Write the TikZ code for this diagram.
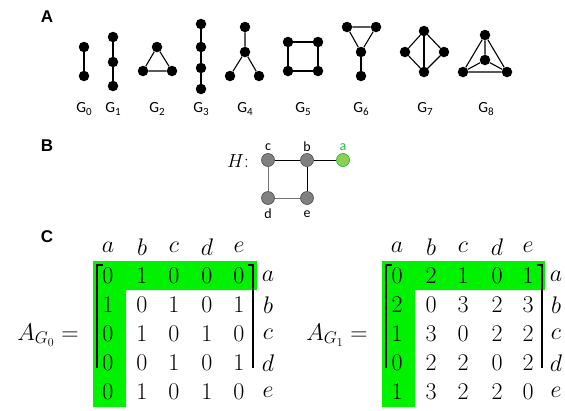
\RequirePackage{fix-cm}
\documentclass[tikz,border=0pt]{standalone}
\usepackage{fontspec}
\newfontfamily\panelfont{Liberation Sans}
\newfontfamily\gfont{Carlito}
\definecolor{hl}{RGB}{0,242,0}
\definecolor{vgray}{RGB}{128,128,128}
\definecolor{agreen}{RGB}{140,208,80}
\definecolor{aedge}{RGB}{40,185,80}
\newcommand{\glabel}[1]{{\gfont\fontsize{15.5}{17}\selectfont G\raisebox{-2.5pt}{\fontsize{11}{11}\selectfont #1}}}
\tikzset{
  dot/.style={circle,fill=black,inner sep=0pt,minimum size=10.5pt},
  edge/.style={line width=1.1pt,black},
  panel/.style={font=\panelfont\bfseries\fontsize{17}{18}\selectfont},
  glab/.style={inner sep=0pt},
  vtx/.style={circle,draw=black!70,fill=vgray,line width=0.6pt,inner sep=0pt,minimum size=13pt},
  vlab/.style={font=\gfont\fontsize{14}{15}\selectfont,inner sep=0pt},
  ent/.style={font=\fontsize{24}{28}\selectfont,inner sep=0pt},
  brk/.style={line width=1.6pt,black},
}
\begin{document}
\begin{tikzpicture}[x=1pt,y=-1pt]
\useasboundingbox (0,0) rectangle (565,410);

% panel letters
\node[panel] (pA) at (47,17) {A};
\node[panel] (pB) at (47,146) {B};
\node[panel] (pC) at (47,237) {C};

% ---------- panel A: the small graphs ----------
% G0
\node[dot] (g0a) at (84,47) {}; \node[dot] (g0b) at (84,76) {};
\draw[edge] (g0a) -- (g0b);
% G1
\node[dot] (g1a) at (113,37) {}; \node[dot] (g1b) at (113,62) {}; \node[dot] (g1c) at (113,86) {};
\draw[edge] (g1a) -- (g1b) -- (g1c);
% G2
\node[dot] (g2a) at (157,47) {}; \node[dot] (g2b) at (143,71) {}; \node[dot] (g2c) at (172,71) {};
\draw[edge] (g2a) -- (g2b) -- (g2c) -- (g2a);
% G3
\node[dot] (g3a) at (201,24) {}; \node[dot] (g3b) at (201,47) {}; \node[dot] (g3c) at (201,68) {}; \node[dot] (g3d) at (201,89) {};
\draw[edge] (g3a) -- (g3b) -- (g3c) -- (g3d);
% G4
\node[dot] (g4a) at (245,27) {}; \node[dot] (g4b) at (245,52) {}; \node[dot] (g4c) at (230,76) {}; \node[dot] (g4d) at (259,76) {};
\draw[edge] (g4a) -- (g4b) -- (g4c); \draw[edge] (g4b) -- (g4d);
% G5
\node[dot] (g5a) at (288,42) {}; \node[dot] (g5b) at (318,42) {}; \node[dot] (g5c) at (318,71) {}; \node[dot] (g5d) at (288,71) {};
\draw[edge] (g5a) -- (g5b) -- (g5c) -- (g5d) -- (g5a);
% G6
\node[dot] (g6a) at (347,27) {}; \node[dot] (g6b) at (376,27) {}; \node[dot] (g6c) at (361,52) {}; \node[dot] (g6d) at (361,76) {};
\draw[edge] (g6a) -- (g6b) -- (g6c) -- (g6a); \draw[edge] (g6c) -- (g6d);
% G7
\node[dot] (g7a) at (424,31) {}; \node[dot] (g7b) at (405,52) {}; \node[dot] (g7c) at (444,52) {}; \node[dot] (g7d) at (424,72) {};
\draw[edge] (g7a) -- (g7b) -- (g7d) -- (g7c) -- (g7a); \draw[edge] (g7a) -- (g7d);
% G8
\node[dot] (g8a) at (485,35) {}; \node[dot] (g8b) at (485,60) {}; \node[dot] (g8c) at (463,72) {}; \node[dot] (g8d) at (507,72) {};
\draw[edge] (g8a) -- (g8b) (g8a) -- (g8c) (g8a) -- (g8d) (g8b) -- (g8c) (g8b) -- (g8d) (g8c) -- (g8d);

% graph names
\foreach \i/\x in {0/84,1/113,2/157,3/201,4/245,5/303,6/361,7/425,8/486}
  \node[glab] (gl\i) at (\x,109) {\glabel{\i}};

% ---------- panel B: the pattern graph H ----------
\node[font=\fontsize{19}{22}\selectfont,inner sep=0pt] (Hlab) at (238,161) {$H$:};
\node[vtx] (vc) at (268,160) {};
\node[vtx] (vb) at (307,160) {};
\node[circle,draw=aedge,fill=agreen,line width=0.7pt,inner sep=0pt,minimum size=13pt] (va) at (343,160) {};
\node[vtx] (vd) at (268,198) {};
\node[vtx] (ve) at (307,198) {};
\draw[line width=1pt,black] (vc) -- (vb);
\draw[line width=1pt,black] (vb) -- (va);
\draw[line width=1pt,black] (vb) -- (ve);
\draw[line width=1pt,black!55] (vc) -- (vd);
\draw[line width=1pt,black!55] (vd) -- (ve);
\node[vlab] (lc) at (268,147) {c};
\node[vlab] (lb) at (307,147) {b};
\node[vlab,text=aedge] (la) at (343,147) {a};
\node[vlab] (ld) at (268,214) {d};
\node[vlab] (le) at (307,214) {e};

% ---------- panel C: adjacency matrices ----------
% highlighted first row and column
\fill[hl] (93,261) -- (257,261) -- (257,290) -- (126,290) -- (126,407) -- (93,407) -- cycle;
\fill[hl] (382,261) -- (545,261) -- (545,290) -- (415,290) -- (415,407) -- (382,407) -- cycle;

% left matrix
\node[ent] (A0) at (48,335) {$A_{G_0}=$};
\foreach \c/\x in {a/108,b/142,c/174,d/207,e/239}
  \node[ent] (L\c) at (\x,247) {$\c$};
\foreach \r/\y in {a/276,b/305,c/334,d/363,e/392}
  \node[ent] (LR\r) at (268,\y) {$\r$};
\foreach \row/\y [count=\i] in {{0,1,0,0,0}/276,{1,0,1,0,1}/305,{0,1,0,1,0}/334,{0,0,1,0,1}/363,{0,1,0,1,0}/392}
  \foreach \v [count=\j] in \row {
    \pgfmathsetmacro{\xx}{{108,142,174,207,239}[\j-1]}
    \node[ent] (L\i\j) at (\xx,\y) {$\v$};
  };
\draw[brk] (102.5,265) -- (97,265) -- (97,368);
\draw[brk] (247.5,265) -- (253,265) -- (253,368);

% right matrix
\node[ent] (A1) at (337,335) {$A_{G_1}=$};
\foreach \c/\x in {a/397,b/431,c/463,d/497,e/528}
  \node[ent] (R\c) at (\x,247) {$\c$};
\foreach \r/\y in {a/276,b/305,c/334,d/363,e/392}
  \node[ent] (RR\r) at (556,\y) {$\r$};
\foreach \row/\y [count=\i] in {{0,2,1,0,1}/276,{2,0,3,2,3}/305,{1,3,0,2,2}/334,{0,2,2,0,2}/363,{1,3,2,2,0}/392}
  \foreach \v [count=\j] in \row {
    \pgfmathsetmacro{\xx}{{397,431,463,497,528}[\j-1]}
    \node[ent] (R\i\j) at (\xx,\y) {$\v$};
  };
\draw[brk] (391.5,265) -- (386,265) -- (386,368);
\draw[brk] (536.5,265) -- (542,265) -- (542,368);
\end{tikzpicture}
\end{document}
